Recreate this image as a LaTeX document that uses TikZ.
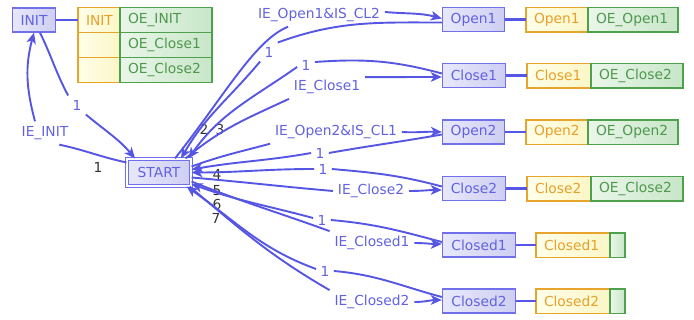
\documentclass[tikz,border=0pt]{standalone}
\usepackage{fontspec}
\setmainfont{DejaVu Sans}
\usetikzlibrary{arrows.meta}

\definecolor{edgeblue}{RGB}{86,86,228}
\definecolor{txtblue}{RGB}{98,98,225}
\definecolor{boxline}{RGB}{112,112,234}
\definecolor{boxfillL}{RGB}{232,232,251}
\definecolor{boxfillR}{RGB}{206,206,243}
\definecolor{orline}{RGB}{232,165,45}
\definecolor{ortxt}{RGB}{232,160,40}
\definecolor{orfillL}{RGB}{255,255,234}
\definecolor{orfillR}{RGB}{252,246,198}
\definecolor{grline}{RGB}{78,162,78}
\definecolor{grtxt}{RGB}{78,152,78}
\definecolor{grfillL}{RGB}{234,246,234}
\definecolor{grfillR}{RGB}{200,230,200}

\begin{document}
\begin{tikzpicture}[x=1pt,y=1pt,
  every node/.style={font=\fontsize{13.8pt}{16pt}\selectfont},
  state/.style={draw=boxline, line width=1.3pt, left color=boxfillL, right color=boxfillR,
                text=txtblue, minimum height=24pt, inner sep=0pt},
  startbox/.style={draw=boxline, line width=1.1pt, double=white, double distance=2pt,
                   left color=boxfillL, right color=boxfillR, text=txtblue,
                   minimum width=64pt, minimum height=27pt, inner sep=0pt},
  ocell/.style={draw=orline, line width=1.3pt, left color=orfillL, right color=orfillR,
                text=ortxt, anchor=north west, outer sep=0pt, inner xsep=8pt, inner ysep=0pt,
                minimum height=24.5pt, text width=#1, align=left},
  gcell/.style={draw=grline, line width=1.3pt, left color=grfillL, right color=grfillR,
                text=grtxt, anchor=north west, outer sep=0pt, inner xsep=8pt, inner ysep=0pt,
                minimum height=24.5pt, text width=#1, align=left},
  tie/.style={draw=edgeblue, line width=2.2pt},
  trans/.style={draw=edgeblue, line width=1.9pt, -{Stealth[length=11pt,width=9.5pt,inset=3pt]}},
  lab/.style={text=txtblue, inner sep=2pt, outer sep=3pt},
  one/.style={lab, inner sep=1.5pt},
  prio/.style={text=black!80, inner sep=1pt}
]
\fill[white] (0,0) rectangle (694,-320);
\useasboundingbox (0,0) rectangle (694,-320);

% ---- states ----
\node[state, minimum width=43pt] (init) at (34,-20) {INIT};
\node[startbox] (start) at (159,-172.5) {START};
\node[state, minimum width=62pt] (open1) at (473.5,-19.5) {Open1};
\node[state, minimum width=63pt] (close1) at (474,-75.5) {Close1};
\node[state, minimum width=62pt] (open2) at (473.5,-132) {Open2};
\node[state, minimum width=63pt] (close2) at (474,-188.5) {Close2};
\node[state, minimum width=73pt] (closed1) at (479,-245) {Closed1};
\node[state, minimum width=73pt] (closed2) at (479,-301) {Closed2};

% ---- action tables ----
\node[ocell=26pt, minimum height=25pt] (ti1o) at (78,-7.5) {INIT};
\node[gcell=76pt, minimum height=25pt] (ti1g) at (ti1o.north east) {OE\_INIT};
\node[ocell=26pt, minimum height=25pt] (ti2o) at (ti1o.south west) {};
\node[gcell=76pt, minimum height=25pt] (ti2g) at (ti2o.north east) {OE\_Close1};
\node[ocell=26pt, minimum height=25pt] (ti3o) at (ti2o.south west) {};
\node[gcell=76pt, minimum height=25pt] (ti3g) at (ti3o.north east) {OE\_Close2};

\node[ocell=46pt] (t1o) at (526,-7.5) {Open1};
\node[gcell=74pt] (t1g) at (t1o.north east) {OE\_Open1};
\node[ocell=48pt] (t2o) at (527,-63.5) {Close1};
\node[gcell=76pt] (t2g) at (t2o.north east) {OE\_Close2};
\node[ocell=46pt] (t3o) at (526,-120) {Open2};
\node[gcell=74pt] (t3g) at (t3o.north east) {OE\_Open2};
\node[ocell=48pt] (t4o) at (527,-176.5) {Close2};
\node[gcell=76pt] (t4g) at (t4o.north east) {OE\_Close2};
\node[ocell=58pt] (t5o) at (536,-233) {Closed1};
\node[gcell=0pt, inner xsep=7.5pt] (t5g) at (t5o.north east) {};
\node[ocell=58pt] (t6o) at (536,-289) {Closed2};
\node[gcell=0pt, inner xsep=7.5pt] (t6g) at (t6o.north east) {};

\draw[tie] (init.east) -- (init.east -| ti1o.west);
\draw[tie] (open1.east) -- (open1.east -| t1o.west);
\draw[tie] (close1.east) -- (close1.east -| t2o.west);
\draw[tie] (open2.east) -- (open2.east -| t3o.west);
\draw[tie] (close2.east) -- (close2.east -| t4o.west);
\draw[tie] (closed1.east) -- (closed1.east -| t5o.west);
\draw[tie] (closed2.east) -- (closed2.east -| t6o.west);

% ---- transition labels ----
\node[one] (l1) at (77,-105) {1};
\node[lab] (l2) at (45,-133) {IE\_INIT};
\node[lab] (l3) at (319,-15) {IE\_Open1\&IS\_CL2};
\node[one] (l4) at (269,-52) {1};
\node[lab] (l5) at (327,-87) {IE\_Close1};
\node[one] (l6) at (306,-65) {1};
\node[lab] (l7) at (336,-132) {IE\_Open2\&IS\_CL1};
\node[one] (l8) at (320,-153) {1};
\node[lab] (l9) at (371,-191) {IE\_Close2};
\node[one] (l10) at (323,-169) {1};
\node[lab] (l11) at (372,-243) {IE\_Closed1};
\node[one] (l12) at (322,-220) {1};
\node[lab] (l13) at (372,-302) {IE\_Closed2};
\node[one] (l14) at (325,-271) {1};

% ---- priorities of the transitions leaving START ----
\node[prio] (n1) at (98,-167) {1};
\node[prio] (n2) at (204,-129) {2};
\node[prio] (n3) at (220,-129) {3};
\node[prio] (n4) at (217,-174) {4};
\node[prio] (n5) at (217,-191) {5};
\node[prio] (n6) at (217,-204) {6};
\node[prio] (n7) at (216,-218) {7};

% ---- transitions ----
\draw[trans] ([xshift=6pt]init.south) to[out=-64,in=118] (l1.north west)
             (l1.south east) to[out=-40,in=130] ([xshift=-24pt]start.north);
\draw[trans] ([yshift=-4pt]start.north west) to[out=168,in=-12] ([xshift=-14pt]l2.south east)
             ([xshift=-10pt]l2.north) to[out=105,in=-105] (init.south);
\draw[trans] ([xshift=16pt]start.north) .. controls (225,-95) and (255,-40) .. ([xshift=35pt]l3.south west)
             ([yshift=3pt]l3.east) to[out=-5,in=165] ([yshift=1pt]open1.west);
\draw[trans] ([yshift=-3pt]open1.west) to[out=180,in=20] (l4.north east)
             (l4.south west) to[out=230,in=60] ([xshift=22pt]start.north);
\draw[trans] ([xshift=-6pt]start.north east) to[out=40,in=205] (l5.south west)
             ([yshift=-2pt]l5.north east) to[out=0,in=180] ([yshift=-1.5pt]close1.west);
\draw[trans] ([yshift=2pt]close1.west) to[out=165,in=4] ([yshift=3pt]l6.east)
             ([yshift=-2pt]l6.west) to[out=215,in=55] ([xshift=-3pt]start.north east);
\draw[trans] ([yshift=6pt]start.east) to[out=20,in=195] (l7.south west)
             (l7.east) to[out=-3,in=178] (open2.west);
\draw[trans] ([yshift=-2.5pt]open2.west) to[out=190,in=10] (l8.east)
             (l8.west) to[out=190,in=10] ([yshift=3pt]start.east);
\draw[trans] ([yshift=-5pt]start.east) to[out=-5,in=175] (l9.west)
             (l9.east) to[out=0,in=180] ([yshift=-1.5pt]close2.west);
\draw[trans] ([yshift=2pt]close2.west) to[out=165,in=-5] (l10.east)
             (l10.west) to[out=180,in=0] (start.east);
\draw[trans] ([yshift=-9pt]start.east) to[out=-22,in=160] (l11.north west)
             (l11.east) to[out=0,in=180] ([yshift=1pt]closed1.west);
\draw[trans] ([yshift=3pt]closed1.west) to[out=165,in=-5] (l12.east)
             ([yshift=2pt]l12.west) to[out=165,in=-20] ([yshift=-11.5pt]start.east);
\draw[trans] ([xshift=-2pt]start.south east) to[out=-40,in=150] (l13.north west)
             (l13.east) to[out=0,in=180] ([yshift=1pt]closed2.west);
\draw[trans] ([yshift=4pt]closed2.west) to[out=165,in=-5] (l14.east)
             ([yshift=2pt]l14.west) to[out=160,in=-35] ([xshift=-5pt]start.south east);
\end{tikzpicture}
\end{document}
